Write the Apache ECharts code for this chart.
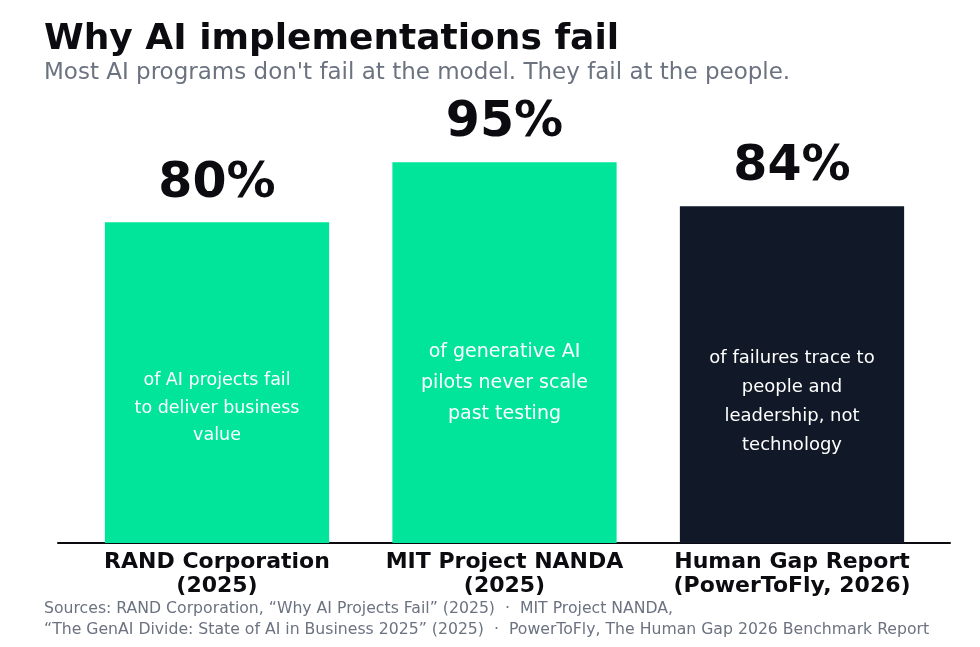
<!DOCTYPE html>
<html>
<head>
<meta charset="utf-8">
<script src="https://cdn.jsdelivr.net/npm/echarts@6/dist/echarts.min.js"></script>
<style>
html,body{margin:0;padding:0;background:#fff;}
#chart{width:980px;height:647px;}
</style>
</head>
<body>
<div id="chart"></div>
<script>
const categories = ['RAND Corporation\n(2025)', 'MIT Project NANDA\n(2025)', 'Human Gap Report\n(PowerToFly, 2026)'];
const values = [80, 95, 84];
const valueLabels = ['80%', '95%', '84%'];
const descriptions = [
  'of AI projects fail\nto deliver business\nvalue',
  'of generative AI\npilots never scale\npast testing',
  'of failures trace to\npeople and\nleadership, not\ntechnology'
];
const barColors = ['#00E599', '#00E599', '#111827'];
const titleText = 'Why AI implementations fail';
const subtitleText = "Most AI programs don't fail at the model. They fail at the people.";
const sourcesText = 'Sources: RAND Corporation, \u201cWhy AI Projects Fail\u201d (2025)  \u00b7  MIT Project NANDA,\n\u201cThe GenAI Divide: State of AI in Business 2025\u201d (2025)  \u00b7  PowerToFly, The Human Gap 2026 Benchmark Report';

// per-bar description text styling (fonts fitted to each bar in the original)
const descFontSizes = [17.5, 19, 18];
const descLineHeights = [27.5, 31, 29];

const FONT = 'DejaVu Sans';
const chart = echarts.init(document.getElementById('chart'), null, {renderer: 'canvas'});
const gridTop = 102, gridBottom = 104;

chart.setOption({
  animation: false,
  backgroundColor: '#ffffff',
  title: [
    {
      text: titleText,
      subtext: subtitleText,
      left: 39, top: 17,
      itemGap: 4,
      textStyle: {fontFamily: FONT, fontWeight: 'bold', fontSize: 36, color: '#0B0B10'},
      subtextStyle: {fontFamily: FONT, fontSize: 23, color: '#6B7280'}
    },
    {
      text: sourcesText,
      left: 39, top: 593,
      textStyle: {fontFamily: FONT, fontWeight: 'normal', fontSize: 15.7, color: '#6B7280', lineHeight: 21}
    }
  ],
  grid: [
    {left: 73.25, right: 44.25, top: gridTop, bottom: gridBottom},
    {left: 58, right: 30, top: gridTop, bottom: gridBottom}
  ],
  xAxis: [
    {
      type: 'category', gridIndex: 0, data: categories,
      axisLine: {show: false}, axisTick: {show: false},
      axisLabel: {fontFamily: FONT, fontWeight: 'bold', fontSize: 22, color: '#0B0B10', lineHeight: 24, margin: 7, interval: 0}
    },
    {
      type: 'value', gridIndex: 1, min: 0, max: 1,
      axisLine: {show: true, onZero: false, lineStyle: {color: '#0B0B10', width: 2}},
      axisTick: {show: false}, axisLabel: {show: false}, splitLine: {show: false}
    }
  ],
  yAxis: [
    {type: 'value', gridIndex: 0, min: 0, max: 110, show: false},
    {type: 'value', gridIndex: 1, min: 0, max: 110, show: false}
  ],
  series: [
    {
      type: 'bar', xAxisIndex: 0, yAxisIndex: 0,
      barWidth: '78%',
      data: values.map((v, i) => ({value: v, itemStyle: {color: barColors[i]}})),
      label: {
        show: true, position: 'top', distance: 14,
        formatter: p => valueLabels[p.dataIndex],
        fontFamily: FONT, fontWeight: 'bold', fontSize: 49, color: '#0B0B10'
      },
      z: 2
    },
    {
      type: 'bar', xAxisIndex: 0, yAxisIndex: 0,
      barWidth: '78%', barGap: '-100%',
      data: values.map((v, i) => ({
        value: v,
        itemStyle: {color: 'rgba(0,0,0,0)'},
        label: {fontSize: descFontSizes[i], lineHeight: descLineHeights[i]}
      })),
      label: {
        show: true, position: ['50%', '58%'], align: 'center', verticalAlign: 'middle',
        formatter: p => descriptions[p.dataIndex],
        fontFamily: FONT, fontSize: 18, color: '#ffffff', lineHeight: 28
      },
      z: 3
    }
  ]
});
</script>
</body>
</html>
